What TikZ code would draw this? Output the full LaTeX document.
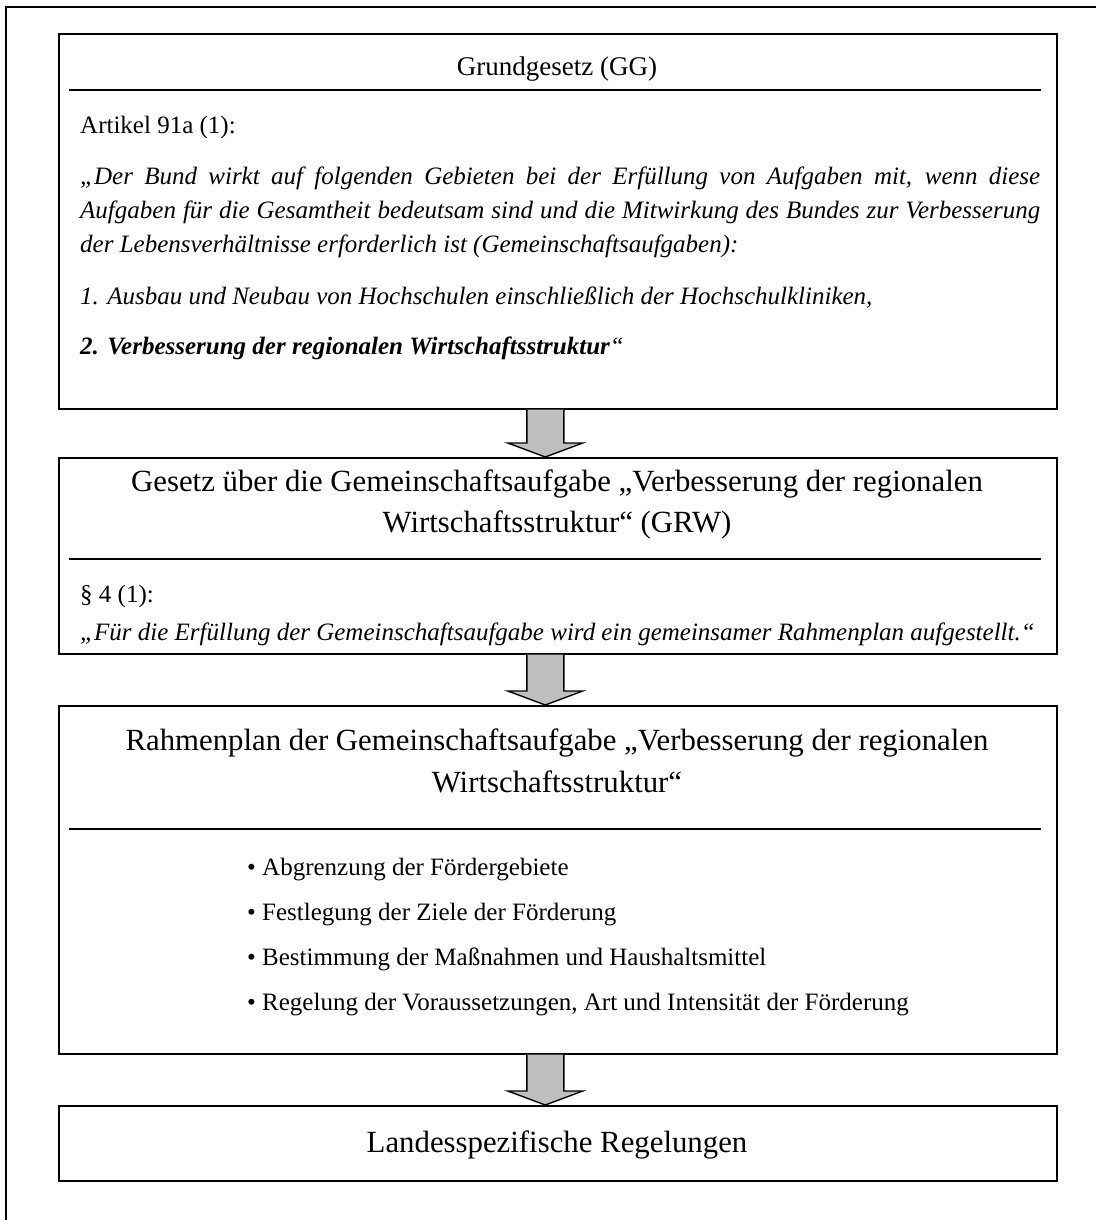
\documentclass[tikz,border=0pt]{standalone}
\usepackage{fontspec}
\setmainfont{Liberation Serif}
\usetikzlibrary{calc}
\newcommand\blockarrow[2]{%
  \draw[barrow] ($(#1)+(-18.5,0)$) -- ($(#2)+(-18.5,-14)$) -- ($(#2)+(-37.5,-14)$) -- (#2)
     -- ($(#2)+(37.5,-14)$) -- ($(#2)+(18.5,-14)$) -- ($(#1)+(18.5,0)$);}
\begin{document}
\begin{tikzpicture}[x=1pt,y=-1pt,
  box/.style={draw=black, line width=1.6pt, inner sep=0pt, minimum width=998pt, anchor=north west},
  sepline/.style={line width=1.6pt},
  ttl/.style={font=\fontsize{30.8}{41}\selectfont, inner sep=0pt, anchor=base},
  smallttl/.style={font=\fontsize{27}{34}\selectfont, inner sep=0pt, anchor=base},
  bodytxt/.style={font=\fontsize{25}{34}\selectfont, inner sep=0pt, anchor=base west},
  ittxt/.style={font=\fontsize{25}{34}\selectfont\itshape, inner sep=0pt, anchor=base west},
  barrow/.style={draw=black, line width=1.4pt, fill=gray!50, line join=miter},
]
\useasboundingbox (0,0) rectangle (1096,1220);
\draw[line width=1.6pt] (6,1220) -- (6,7) -- (1096,7);

% Box 1
\node[box, minimum height=375pt] (gg) at (58,33) {};
\node[smallttl] (ggt) at (557,76) {Grundgesetz (GG)};
\draw[sepline] (69,90) -- (1041,90);
\node[bodytxt] (art) at (80,133) {Artikel 91a (1):};
\node[ittxt] (q1) at (80,184) {\makebox[960pt][s]{„Der Bund wirkt auf folgenden Gebieten bei der Erfüllung von Aufgaben mit, wenn diese}};
\node[ittxt] (q2) at (80,218) {\makebox[960pt][s]{Aufgaben für die Gesamtheit bedeutsam sind und die Mitwirkung des Bundes zur Verbesserung}};
\node[ittxt] (q3) at (80,252) {der Lebensverhältnisse erforderlich ist (Gemeinschaftsaufgaben):};
\node[ittxt] (q4) at (80,304) {1. Ausbau und Neubau von Hochschulen einschließlich der Hochschulkliniken,};
\node[ittxt] (q5) at (80,354) {\textbf{2. Verbesserung der regionalen Wirtschaftsstruktur}“};

% Box 2
\node[box, minimum height=196pt] (grw) at (58,457) {};
\node[ttl] (grwt1) at (557,491) {Gesetz über die Gemeinschaftsaufgabe „Verbesserung der regionalen};
\node[ttl] (grwt2) at (557,532) {Wirtschaftsstruktur“ (GRW)};
\draw[sepline] (69,559) -- (1041,559);
\node[bodytxt] (par) at (80,602) {§ 4 (1):};
\node[ittxt] (q6) at (80,640) {„Für die Erfüllung der Gemeinschaftsaufgabe wird ein gemeinsamer Rahmenplan aufgestellt.“};

% Box 3
\node[box, minimum height=348pt] (rp) at (58,705) {};
\node[ttl] (rpt1) at (557,750) {Rahmenplan der Gemeinschaftsaufgabe „Verbesserung der regionalen};
\node[ttl] (rpt2) at (557,792) {Wirtschaftsstruktur“};
\draw[sepline] (69,829) -- (1041,829);
\node[bodytxt] (b1) at (247,875) {• Abgrenzung der Fördergebiete};
\node[bodytxt] (b2) at (247,920) {• Festlegung der Ziele der Förderung};
\node[bodytxt] (b3) at (247,965) {• Bestimmung der Maßnahmen und Haushaltsmittel};
\node[bodytxt] (b4) at (247,1010) {• Regelung der Voraussetzungen, Art und Intensität der Förderung};

% Box 4
\node[box, minimum height=75pt] (ls) at (58,1105) {};
\node[ttl] (lst) at (557,1152) {Landesspezifische Regelungen};

% Arrows
\coordinate (a1s) at ($(gg.south)+(-12.5,0)$);
\coordinate (a1e) at ($(grw.north)+(-12.5,0)$);
\coordinate (a2s) at ($(grw.south)+(-12.5,0)$);
\coordinate (a2e) at ($(rp.north)+(-12.5,0)$);
\coordinate (a3s) at ($(rp.south)+(-12.5,0)$);
\coordinate (a3e) at ($(ls.north)+(-12.5,0)$);
\blockarrow{a1s}{a1e}
\blockarrow{a2s}{a2e}
\blockarrow{a3s}{a3e}
\end{tikzpicture}
\end{document}
